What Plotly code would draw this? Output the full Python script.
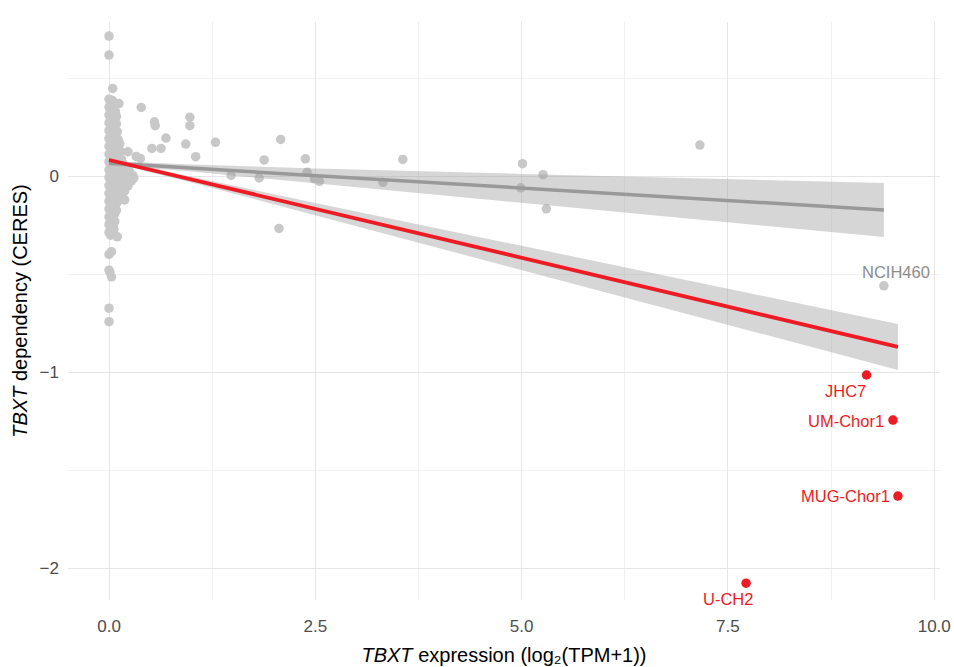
import plotly.graph_objects as go

# ---- data ----
# dense column of cell lines with ~zero TBXT expression
cluster_x = [0.00,0.04, 0.02,0.07,0.12, 0.00,0.05, 0.02,0.08, 0.00,0.05,0.09, 0.02,0.07, 0.00,0.04,0.09,
             0.02,0.07, 0.00,0.05,0.10, 0.02,0.08, 0.00,0.05,0.11, 0.02,0.08,0.13, 0.00,0.05,0.11,
             0.02,0.08,0.14, 0.00,0.05,0.11, 0.02,0.08,0.15, 0.00,0.05,0.11,0.17, 0.02,0.08,0.14,0.21,
             0.00,0.05,0.11,0.18,0.25, 0.02,0.08,0.15,0.22,0.29, 0.00,0.05,0.11,0.18,0.25,0.30,
             0.02,0.08,0.14,0.21,0.27, 0.00,0.05,0.11,0.17,0.23, 0.02,0.08,0.14,0.19, 0.00,0.05,0.11,0.16,
             0.02,0.08,0.13, 0.00,0.05,0.10, 0.02,0.07, 0.00,0.05,0.09, 0.02,0.07, 0.00,0.05, 0.02,0.07,
             0.00,0.05, 0.02,0.06, 0.00,0.04, 0.02,0.10]
cluster_y = [0.392,0.386, 0.372,0.368,0.370, 0.352,0.347, 0.333,0.328, 0.312,0.308,0.305, 0.291,0.287, 0.272,0.268,0.266,
             0.251,0.247, 0.232,0.228,0.226, 0.211,0.207, 0.192,0.188,0.186, 0.171,0.168,0.166, 0.152,0.148,0.146,
             0.131,0.128,0.126, 0.112,0.108,0.106, 0.091,0.088,0.086, 0.072,0.068,0.066,0.064, 0.052,0.048,0.046,0.044,
             0.032,0.028,0.026,0.024,0.022, 0.012,0.008,0.006,0.004,0.002, -0.008,-0.012,-0.014,-0.016,-0.018,-0.010,
             -0.028,-0.032,-0.034,-0.036,-0.026, -0.048,-0.052,-0.054,-0.056,-0.050, -0.068,-0.072,-0.074,-0.076,
             -0.088,-0.092,-0.094,-0.096, -0.108,-0.112,-0.114, -0.128,-0.132,-0.134, -0.148,-0.152, -0.168,-0.172,-0.174,
             -0.188,-0.192, -0.208,-0.212, -0.228,-0.232, -0.248,-0.252, -0.268,-0.272, -0.288,-0.292, -0.302,-0.310]

other_x = [0.00,0.00,0.045,0.39,0.55,0.56,0.98,0.98,0.69,0.52,0.63,0.93,1.29,1.05,0.23,0.33,0.38,0.19,
           1.48,1.82,1.88,2.08,2.38,2.40,2.49,2.55,2.06,3.32,3.56,5.01,4.99,5.26,5.30,7.16,
           0.03,0.00,0.00,0.01,0.03,0.00,0.00]
other_y = [0.714,0.617,0.447,0.35,0.277,0.257,0.30,0.257,0.194,0.141,0.141,0.163,0.172,0.099,0.124,0.10,0.09,-0.122,
           0.003,-0.01,0.082,0.187,0.088,0.019,-0.014,-0.027,-0.267,-0.032,0.085,0.063,-0.06,0.007,-0.167,0.158,
           -0.386,-0.40,-0.48,-0.49,-0.514,-0.674,-0.743]

label_gray_x = [9.39]
label_gray_y = [-0.56]
label_gray_text = ["NCIH460"]

chordoma_x = [9.18, 9.50, 9.56, 7.72]
chordoma_y = [-1.015, -1.245, -1.633, -2.077]
chordoma_text = ["JHC7", "UM-Chor1", "MUG-Chor1", "U-CH2"]

gray_fit_x = [0, 0.2, 1, 2.5, 5, 7.5, 9.39]
gray_fit_y = [0.066, 0.061, 0.041, 0.002, -0.062, -0.125, -0.173]
gray_fit_lo = [0.053, 0.049, 0.023, -0.035, -0.135, -0.235, -0.311]
gray_fit_hi = [0.079, 0.073, 0.059, 0.039, 0.011, -0.015, -0.035]

red_fit_x = [0, 0.2, 1, 2.5, 5, 7.5, 9.56]
red_fit_y = [0.082, 0.062, -0.018, -0.168, -0.417, -0.667, -0.872]
red_fit_lo = [0.070, 0.051, -0.033, -0.199, -0.478, -0.759, -0.989]
red_fit_hi = [0.094, 0.073, -0.003, -0.137, -0.356, -0.575, -0.755]

x_ticks = [0, 2.5, 5, 7.5, 10]
x_ticklabels = ["0.0", "2.5", "5.0", "7.5", "10.0"]
y_ticks = [-2, -1, 0]
y_ticklabels = ["\u22122", "\u22121", "0"]

# ---- style ----
FONT = "Liberation Sans, Arial, sans-serif"
GRAY_PT = "#c8c8c8"
GRAY_LINE = "#999999"
RED = "#ED1C24"
RIBBON = "rgba(153,153,153,0.4)"

fig = go.Figure()

fig.add_trace(go.Scatter(x=cluster_x + other_x + label_gray_x, y=cluster_y + other_y + label_gray_y,
                         mode="markers", marker=dict(color=GRAY_PT, size=9.5), showlegend=False, hoverinfo="skip"))

for fx, lo, hi in [(gray_fit_x, gray_fit_lo, gray_fit_hi), (red_fit_x, red_fit_lo, red_fit_hi)]:
    fig.add_trace(go.Scatter(x=fx + fx[::-1], y=hi + lo[::-1], fill="toself", fillcolor=RIBBON,
                             line=dict(width=0), mode="lines", showlegend=False, hoverinfo="skip"))

fig.add_trace(go.Scatter(x=gray_fit_x, y=gray_fit_y, mode="lines", line=dict(color=GRAY_LINE, width=3.5),
                         showlegend=False))
fig.add_trace(go.Scatter(x=red_fit_x, y=red_fit_y, mode="lines", line=dict(color=RED, width=3.8),
                         showlegend=False))

fig.add_trace(go.Scatter(x=chordoma_x, y=chordoma_y, mode="markers", marker=dict(color=RED, size=9.5),
                         showlegend=False))

fig.add_annotation(x=label_gray_x[0], y=label_gray_y[0], text=label_gray_text[0], showarrow=False,
                   xanchor="center", yanchor="bottom", yshift=3, xshift=12,
                   font=dict(family=FONT, size=16.5, color="#8c8c8c"))
label_specs = [
    dict(xanchor="center", yanchor="top", xshift=-21, yshift=-5),
    dict(xanchor="right", yanchor="middle", xshift=-7, yshift=-1),
    dict(xanchor="right", yanchor="middle", xshift=-6, yshift=0),
    dict(xanchor="center", yanchor="top", xshift=-18, yshift=-5),
]
for xv, yv, t, spec in zip(chordoma_x, chordoma_y, chordoma_text, label_specs):
    fig.add_annotation(x=xv, y=yv, text=t, showarrow=False, font=dict(family=FONT, size=16.5, color=RED), **spec)

fig.update_layout(
    width=954, height=667,
    margin=dict(l=68, r=14, t=22, b=67, autoexpand=False),
    paper_bgcolor="white", plot_bgcolor="white",
    font=dict(family=FONT, size=14, color="#4d4d4d"),
    xaxis=dict(range=[-0.497, 10.07], tickvals=x_ticks, ticktext=x_ticklabels, showgrid=True,
               gridcolor="#e6e6e6", gridwidth=1.2, zeroline=False, showline=False, ticks="",
               automargin=False, ticklabelstandoff=14, tickfont=dict(size=17, color="#4d4d4d"),
               minor=dict(tickvals=[1.25, 3.75, 6.25, 8.75], showgrid=True, gridcolor="#f0f0f0", gridwidth=1),
               title=dict(text="<i>TBXT</i> expression (log\u2082(TPM+1))",
                          font=dict(family=FONT, size=20, color="black"), standoff=12)),
    yaxis=dict(range=[-2.163, 0.786], tickvals=y_ticks, ticktext=y_ticklabels, showgrid=True,
               gridcolor="#e6e6e6", gridwidth=1.2, zeroline=False, showline=False, ticks="",
               automargin=False, ticklabelstandoff=8, tickfont=dict(size=17, color="#4d4d4d"),
               minor=dict(tickvals=[-1.5, -0.5, 0.5], showgrid=True, gridcolor="#f0f0f0", gridwidth=1),
               title=dict(text="<i>TBXT</i> dependency (CERES)",
                          font=dict(family=FONT, size=20, color="black"), standoff=6)),
)

fig.write_html("out.html")
